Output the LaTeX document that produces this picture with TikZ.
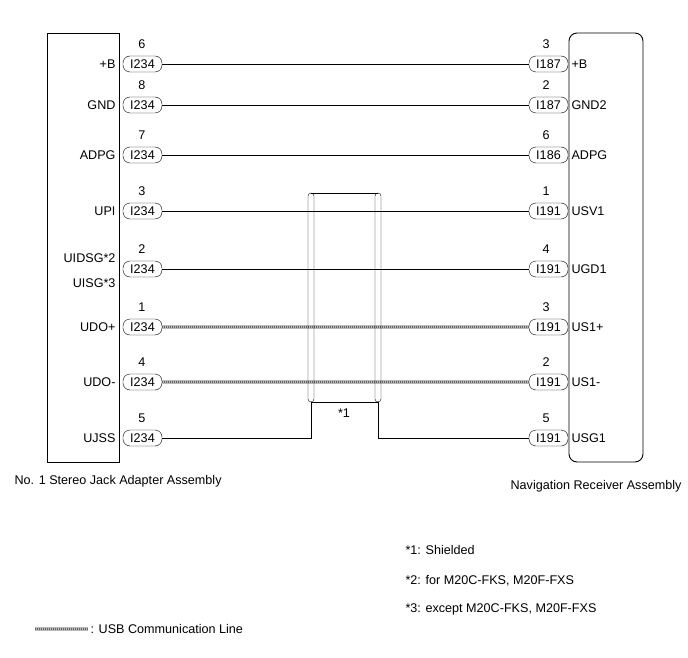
\documentclass[tikz,border=0pt]{standalone}
\usepackage{fontspec}
\setmainfont{Liberation Sans}
\begin{document}
\begin{tikzpicture}[x=1pt,y=-1pt,font=\fontsize{12.6}{15}\selectfont,
  pin/.style={draw,rounded corners=7pt,minimum width=39pt,minimum height=16pt,inner sep=0pt},
  wire/.style={line width=0.5pt},
  usb/.style={line width=4pt,gray!55,postaction={draw,black!60,line width=2.4pt,dash pattern=on 1pt off 1pt}}]
\useasboundingbox (0,0) rectangle (688,658);
% boxes
\draw[line width=0.9pt] (47,33) rectangle (119,462);
\draw[line width=0.9pt,rounded corners=8pt] (569,33) rectangle (643,462);
\node[anchor=west] (capl) at (11,481) {No. 1 Stereo Jack Adapter Assembly};
\node[anchor=east] (capr) at (685,486) {Navigation Receiver Assembly};
% rows
\foreach \y/\ln/\lp/\rc/\rp/\rn [count=\i] in {
  64/+B/6/I187/3/+B, 105/GND/8/I187/2/GND2, 155/ADPG/7/I186/6/ADPG,
  211/UPI/3/I191/1/USV1, 269//2/I191/4/UGD1, 327/UDO+/1/I191/3/US1+,
  382/UDO-/4/I191/2/US1-, 438/UJSS/5/I191/5/USG1} {
  \node[pin] (l\i) at (142.5,\y) {I234};
  \node[pin] (r\i) at (548.5,\y) {\rc};
  \node (ln\i) at (142,\y-20) {\lp};
  \node (rn\i) at (546,\y-20) {\rp};
  \node[anchor=east] (lt\i) at (119,\y) {\ln};
  \node[anchor=west] (rt\i) at (568,\y) {\rn};
}
\node[anchor=east] (lt5a) at (119,258) {UIDSG*2};
\node[anchor=east] (lt5b) at (119,283) {UISG*3};
\foreach \i in {1,...,5} \draw[wire] (l\i) -- (r\i);
\foreach \i in {6,7} \draw[usb] (l\i) -- (r\i);
% shield
\draw[rounded corners=3pt] (308,193) rectangle (314,402);
\draw[rounded corners=3pt] (375,193) rectangle (381,402);
\draw (311,193) -- (378,193);
\draw (311,402) -- (378,402);
\node (s1) at (344,413) {*1};
\coordinate (sa) at (311,438);
\coordinate (sb) at (378,438);
\draw (311,402) -- (sa) -- (l8);
\draw (378,402) -- (sb) -- (r8);
% notes
\node[anchor=west] (n1) at (402,550) {*1: Shielded};
\node[anchor=west] (n2) at (402,581) {*2: for M20C-FKS, M20F-FXS};
\node[anchor=west] (n3) at (402,609) {*3: except M20C-FKS, M20F-FXS};
\coordinate (lg1) at (35,629);
\coordinate (lg2) at (88,629);
\draw[usb] (lg1) -- (lg2);
\node[anchor=west] (lg) at (87,629) {: USB Communication Line};
\end{tikzpicture}
\end{document}
